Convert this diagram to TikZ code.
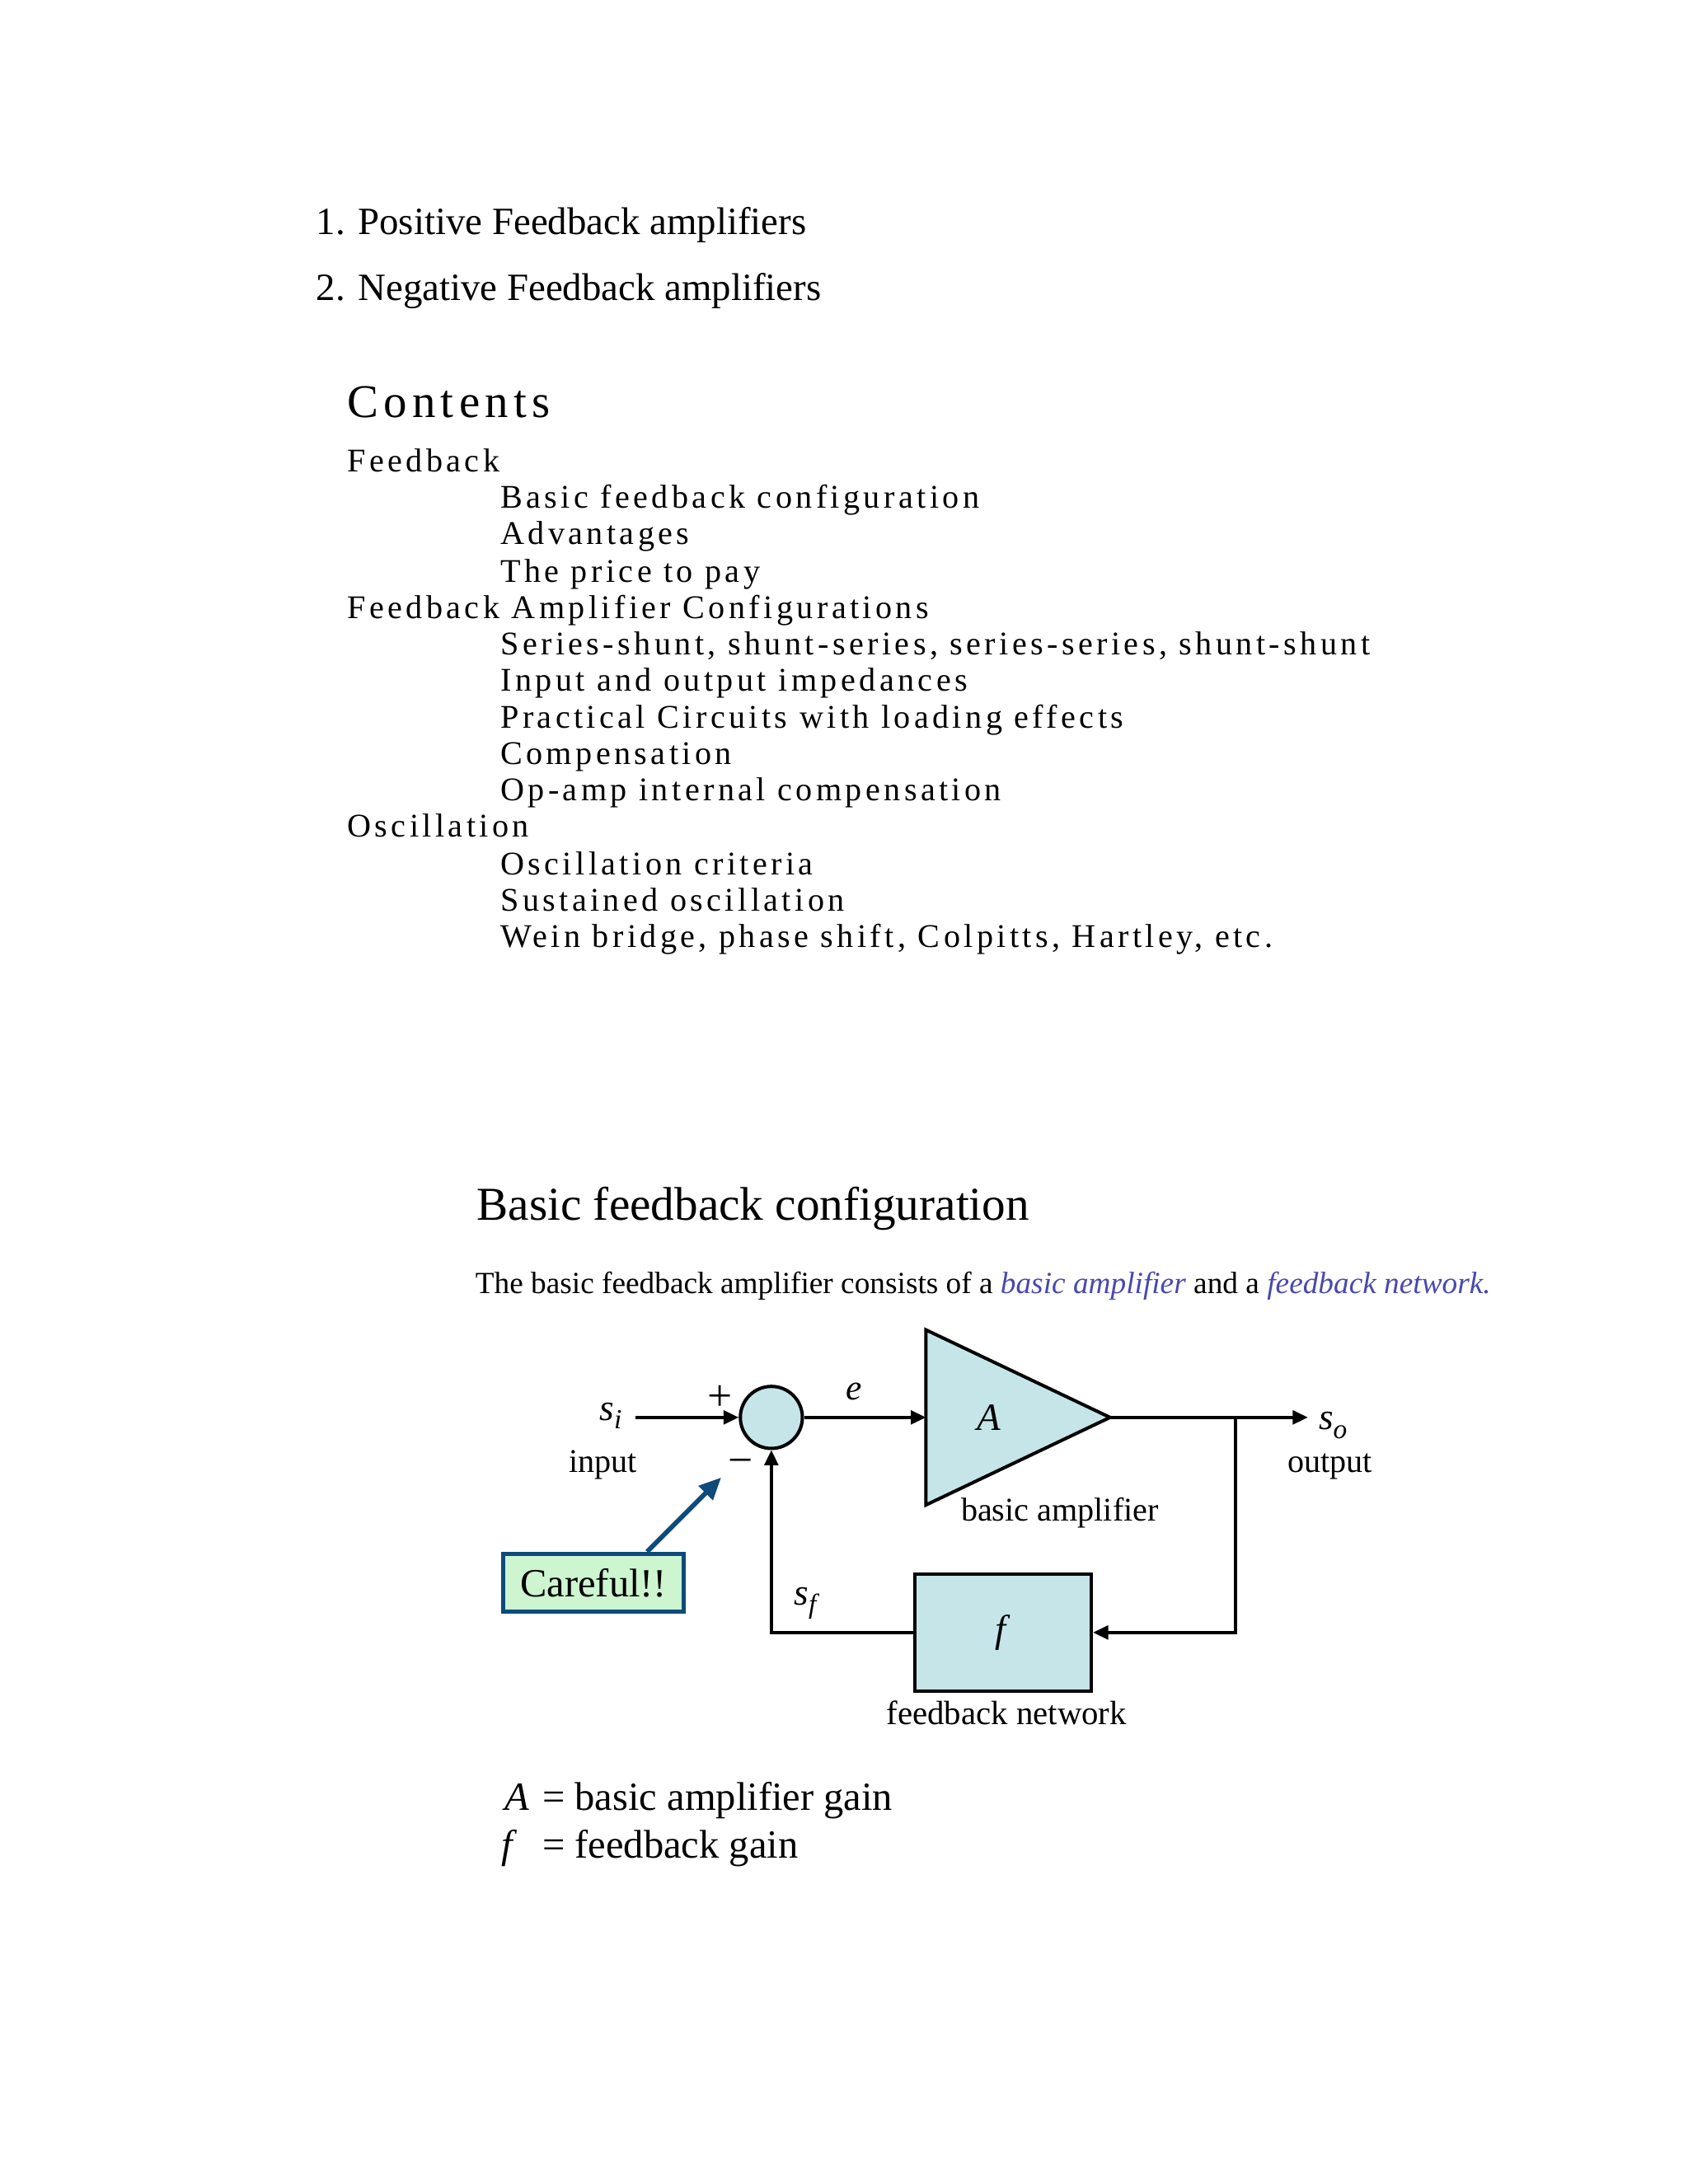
\documentclass[tikz,border=0pt]{standalone}
\usepackage{fontspec}
\setmainfont{Liberation Serif}
\newfontfamily\contfont[LetterSpace=11]{Liberation Serif}
\usetikzlibrary{arrows.meta,positioning}

\definecolor{ampblue}{RGB}{198,229,233}
\definecolor{carefulgreen}{RGB}{204,245,208}
\definecolor{carefulblue}{RGB}{14,74,122}
\definecolor{linkblue}{RGB}{72,72,176}

\tikzset{
  txt/.style={inner sep=0pt, anchor=base west},
  ctxt/.style={inner sep=0pt, anchor=base},
  wire/.style={line width=1pt},
  sig/.style={wire, -{Triangle[length=5.5pt,width=5pt]}},
  block/.style={draw, line width=1.2pt, fill=ampblue},
}
\newcommand\sz[1]{\fontsize{#1}{#1}\selectfont}
\newcommand\sigl[1]{\textit{s}\raisebox{-0.5ex}{\sz{10}\textit{#1}}}

\begin{document}
\begin{tikzpicture}[x=0.5pt,y=-0.5pt]
\useasboundingbox (0,0) rectangle (1224,1584);

% the two kinds
\node[txt] (pos) at (229,170) {\sz{14}1. Positive Feedback amplifiers};
\node[txt] (neg) at (229,218) {\sz{14}2. Negative Feedback amplifiers};

% contents
\node[txt] (cont) at (251.5,303) {\contfont\sz{17}Contents};
\foreach \x/\y/\t [count=\i] in {
    251.5/342.4/Feedback,
    362.6/368.7/Basic feedback configuration,
    362.6/394.9/Advantages,
    362.6/422.2/The price to pay,
    251.5/448.4/Feedback Amplifier Configurations,
    362.6/474.7/{Series-shunt, shunt-series, series-series, shunt-shunt},
    362.6/501/Input and output impedances,
    362.6/528.2/Practical Circuits with loading effects,
    362.6/554.5/Compensation,
    362.6/580.8/Op-amp internal compensation,
    251.5/607/Oscillation,
    362.6/634.3/Oscillation criteria,
    362.6/660.5/Sustained oscillation,
    362.6/686.8/{Wein bridge, phase shift, Colpitts, Hartley, etc.}}
  \node[txt] (item\i) at (\x,\y) {\contfont\sz{12}\t};

% basic feedback configuration
\node[txt] (title) at (345.4,884.8) {\sz{17.1}Basic feedback configuration};
\node[txt] (intro) at (344.4,938.3) {\sz{11.15}The basic feedback amplifier consists of a
  \textcolor{linkblue}{\textit{basic amplifier}} and a \textcolor{linkblue}{\textit{feedback network.}}};

% summing point, amplifier and feedback network
\node[circle, draw, line width=1.2pt, fill=ampblue, minimum size=22.5pt, inner sep=0pt] (sum) at (559.4,1028) {};
\draw[block] (671.5,964.5) -- (805,1028) coordinate (ampout) -- (671.5,1091.5) -- cycle;
\coordinate (ampin) at (671.5,1028);
\node (A) at (717,1028) {\sz{14}\textit{A}};
\node[block, minimum width=64pt, minimum height=42.6pt, inner sep=0pt] (fb) at (727.5,1184) {\sz{14}\textit{f}};

% connectors
\coordinate (in) at (461,1028);
\coordinate (out) at (948.5,1028);
\coordinate (tap) at (896,1028);
\draw[sig] (in) -- (sum.west);
\draw[sig] (sum.east) -- (ampin);
\draw[sig] (ampout) -- (out);
\draw[sig] (tap) |- (fb.east);
\draw[sig] (fb.west) -| (sum.south);

% labels
\node[txt] (si) at (434.5,1030) {\sz{13.5}\sigl{i}};
\node[ctxt] (input) at (437.3,1067.6) {\sz{12}input};
\node[inner sep=0pt] (plus) at (522,1014) {\sz{16}+};
\node[inner sep=0pt] (minus) at (537,1064) {\sz{16}−};
\node[txt] (e) at (613,1015) {\sz{13}\textit{e}};
\node[ctxt] (amplbl) at (768.6,1103) {\sz{12}basic amplifier};
\node[txt] (so) at (956,1037) {\sz{13.5}\sigl{o}};
\node[ctxt] (output) at (964.6,1067.6) {\sz{12}output};
\node[txt] (sf) at (575.5,1164) {\sz{13.5}\sigl{f}};
\node[ctxt] (fblbl) at (730,1251) {\sz{12.2}feedback network};

% careful note
\node[draw=carefulblue, line width=1.5pt, fill=carefulgreen, minimum width=65.5pt, minimum height=20.9pt, inner sep=0pt] (careful) at (430.5,1147.8) {\sz{14.5}Careful!!};
\coordinate (carefultip) at (523,1071.6);
\draw[carefulblue, line width=1.7pt, -{Triangle[length=8pt,width=7pt]}] (careful.30) -- (carefultip);

% gains
\node[txt] (Aeq) at (365.6,1313) {\sz{14.5}\textit{A}};
\node[txt] (Again) at (393,1313) {\sz{14.5}= basic amplifier gain};
\node[txt] (feq) at (363.6,1347.3) {\sz{14.5}\textit{f}};
\node[txt] (fgain) at (393,1347.3) {\sz{14.5}= feedback gain};
\end{tikzpicture}
\end{document}
